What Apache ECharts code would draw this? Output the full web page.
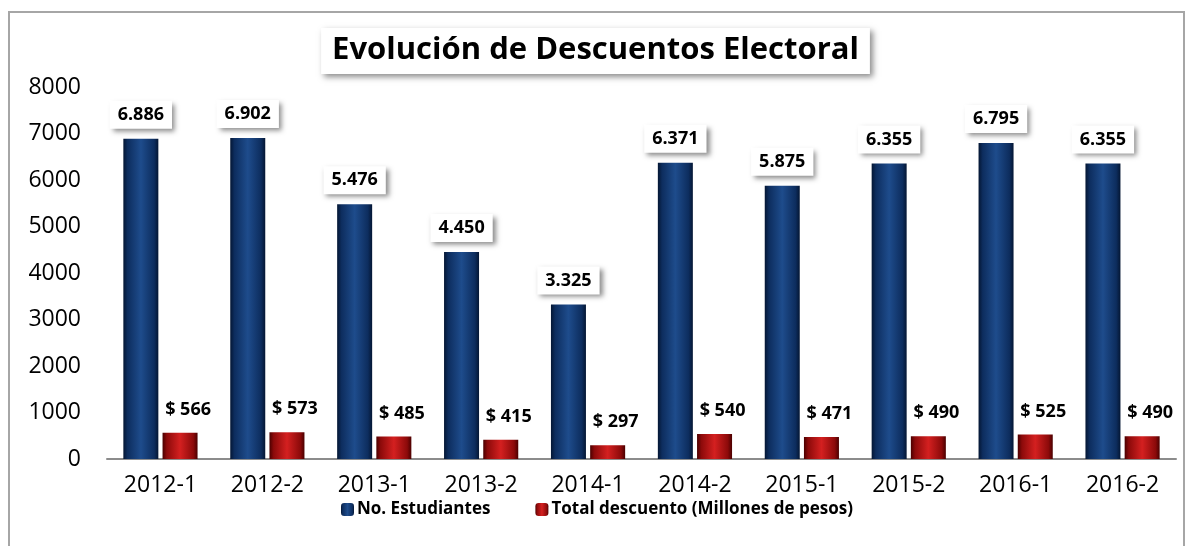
<!DOCTYPE html>
<html>
<head>
<meta charset="UTF-8">
<title>Evolución de Descuentos Electoral</title>
<script src="https://cdn.jsdelivr.net/npm/echarts@6/dist/echarts.min.js"></script>
<style>
  body { margin: 0; background: #fff; }
  #frame { position: absolute; left: 8px; top: 11px; width: 1177px; height: 540px; border: 2px solid #a6a6a6; border-bottom: none; box-sizing: border-box; }
  #chart { position: absolute; left: 0; top: 0; width: 1191px; height: 546px; }
</style>
</head>
<body>
<div id="frame"></div>
<div id="chart"></div>
<script type="text/javascript">
var periodos = ['2012-1', '2012-2', '2013-1', '2013-2', '2014-1', '2014-2', '2015-1', '2015-2', '2016-1', '2016-2'];
var estudiantes = [6886, 6902, 5476, 4450, 3325, 6371, 5875, 6355, 6795, 6355];
var descuento = [566, 573, 485, 415, 297, 540, 471, 490, 525, 490];
var ejeY = [0, 1000, 2000, 3000, 4000, 5000, 6000, 7000, 8000];

var fuente = '"Open Sans", "Noto Sans", sans-serif';

// relleno tipo bisel para las barras
function bisel(oscuro, medio, claro) {
	return new echarts.graphic.LinearGradient(0, 0, 1, 0, [
		{ offset: 0, color: oscuro },
		{ offset: 0.12, color: medio },
		{ offset: 0.5, color: claro },
		{ offset: 0.88, color: medio },
		{ offset: 1, color: oscuro }
	]);
}

var chart = echarts.init(document.getElementById('chart'));
var option = {
	animation: false,
	title: {
		text: 'Evolución de Descuentos Electoral',
		left: 'center',
		top: 28,
		padding: [7, 11, 8, 11],
		backgroundColor: '#fff',
		shadowColor: 'rgba(0,0,0,0.45)',
		shadowBlur: 6,
		shadowOffsetX: 3,
		shadowOffsetY: 3,
		textStyle: { fontFamily: fuente, fontSize: 31, fontWeight: 'bold', color: '#000' }
	},
	legend: {
		bottom: 23,
		left: 336,
		itemWidth: 13,
		itemHeight: 13,
		itemGap: 45,
		textStyle: { fontFamily: fuente, fontSize: 17, fontWeight: 'bold', color: '#000', padding: [0, 0, 0, -2] },
		data: ['No. Estudiantes', 'Total descuento (Millones de pesos)']
	},
	grid: { left: 107, right: 15, top: 87, bottom: 87 },
	xAxis: {
		type: 'category',
		data: periodos,
		axisLine: { lineStyle: { color: '#8c8c8c', width: 2 } },
		axisTick: { show: false },
		axisLabel: { fontFamily: fuente, fontSize: 23, color: '#000', margin: 15 }
	},
	yAxis: {
		type: 'value',
		min: ejeY[0],
		max: ejeY[ejeY.length - 1],
		interval: 1000,
		splitLine: { show: false },
		axisLine: { show: false },
		axisTick: { show: false },
		axisLabel: {
			fontFamily: fuente,
			fontSize: 23,
			color: '#000',
			margin: 26,
			formatter: function (v) { return String(v); }
		}
	},
	series: [
		{
			name: 'No. Estudiantes',
			type: 'bar',
			data: estudiantes,
			barWidth: 35,
			barGap: '12%',
			itemStyle: { color: bisel('#041633', '#0d2d5e', '#1e4c8c') },
			label: {
				show: true,
				position: 'top',
				distance: 10,
				formatter: function (p) { return (p.value / 1000).toFixed(3); },
				fontFamily: fuente,
				fontSize: 18,
				fontWeight: 'bold',
				color: '#000',
				backgroundColor: '#fff',
				padding: [5, 8, 5, 8],
				shadowColor: 'rgba(0,0,0,0.45)',
				shadowBlur: 5,
				shadowOffsetX: 3,
				shadowOffsetY: 3
			}
		},
		{
			name: 'Total descuento (Millones de pesos)',
			type: 'bar',
			data: descuento,
			barWidth: 35,
			itemStyle: { color: bisel('#4a0000', '#8c0a0a', '#d42020') },
			label: {
				show: true,
				position: 'top',
				distance: 14,
				offset: [8, 0],
				formatter: function (p) { return '$ ' + p.value; },
				fontFamily: fuente,
				fontSize: 18,
				fontWeight: 'bold',
				color: '#000'
			}
		}
	]
};
chart.setOption(option);
</script>
</body>
</html>
